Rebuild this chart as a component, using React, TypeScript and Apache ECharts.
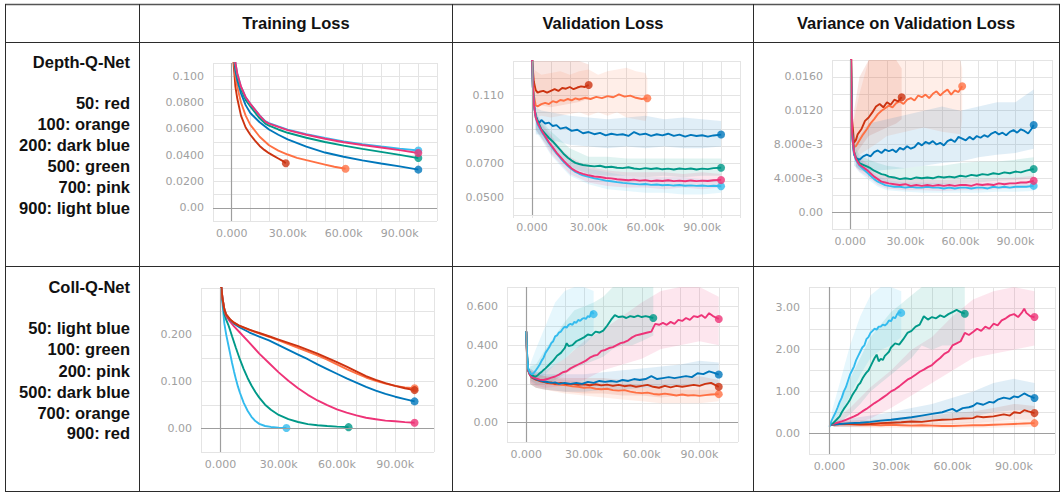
import React, { useEffect, useRef } from "react";
import * as echarts from "echarts";

// ---------- colours (TensorBoard palette) ----------
const RED = "#cc3311";
const ORANGE = "#ff7043";
const DARK_BLUE = "#0077bb";
const GREEN = "#009988";
const PINK = "#ee3377";
const LIGHT_BLUE = "#33bbee";

// ---------- table texts ----------
const columnTitles = ["Training Loss", "Validation Loss", "Variance on Validation Loss"];
const depthLegend = ["Depth-Q-Net", "50: red", "100: orange", "200: dark blue", "500: green", "700: pink", "900: light blue"];
const collLegend = ["Coll-Q-Net", "50: light blue", "100: green", "200: pink", "500: dark blue", "700: orange", "900: red"];

// ---------- tick labels ----------
const xTickLabels: [number, string][] = [[0, "0.000"], [30, "30.00k"], [60, "60.00k"], [90, "90.00k"]];
const yTicksDTrain: [number, string][] = [[0, "0.00"], [0.02, "0.0200"], [0.04, "0.0400"], [0.06, "0.0600"], [0.08, "0.0800"], [0.1, "0.100"]];
const yTicksDVal: [number, string][] = [[0.05, "0.0500"], [0.07, "0.0700"], [0.09, "0.0900"], [0.11, "0.110"]];
const yTicksDVar: [number, string][] = [[0, "0.00"], [0.004, "4.000e-3"], [0.008, "8.000e-3"], [0.012, "0.0120"], [0.016, "0.0160"]];
const yTicksCTrain: [number, string][] = [[0, "0.00"], [0.1, "0.100"], [0.2, "0.200"]];
const yTicksCVal: [number, string][] = [[0, "0.00"], [0.2, "0.200"], [0.4, "0.400"], [0.6, "0.600"]];
const yTicksCVar: [number, string][] = [[0, "0.00"], [1, "1.00"], [2, "2.00"], [3, "3.00"]];

// ---------- data: [step (k), value] ; bands: [step (k), low, high] ----------
// Depth-Q-Net, training loss
const dTrainRed = [[0, 0.16], [1, 0.11], [2, 0.092], [3, 0.083], [5, 0.07], [7.5, 0.061], [10, 0.0555], [12.5, 0.051], [15, 0.047], [17.5, 0.044], [20, 0.0415], [22.5, 0.0395], [25, 0.0375], [27.5, 0.0355], [29, 0.0338]];
const dTrainOrange = [[0, 0.16], [1, 0.115], [2, 0.1], [3, 0.092], [5, 0.08], [7.5, 0.07], [10, 0.063], [15, 0.054], [20, 0.0475], [25, 0.0435], [30, 0.0405], [35, 0.038], [40, 0.0362], [45, 0.0345], [50, 0.0328], [55, 0.0312], [61, 0.0297]];
const dTrainDarkBlue = [[0, 0.16], [1, 0.12], [2, 0.104], [3, 0.097], [5, 0.087], [7.5, 0.078], [10, 0.072], [15, 0.065], [20, 0.0595], [25, 0.0555], [30, 0.052], [40, 0.0465], [50, 0.042], [60, 0.0388], [70, 0.036], [80, 0.0337], [90, 0.0315], [100, 0.029]];
const dTrainGreen = [[0, 0.16], [1, 0.125], [2, 0.108], [3, 0.1], [5, 0.09], [7.5, 0.082], [10, 0.077], [15, 0.068], [18, 0.064], [20, 0.0625], [25, 0.0595], [30, 0.057], [40, 0.0532], [50, 0.05], [60, 0.0472], [70, 0.0448], [80, 0.0425], [90, 0.0402], [100, 0.0378]];
const dTrainPink = [[0, 0.16], [1, 0.126], [2, 0.11], [3, 0.102], [5, 0.092], [7.5, 0.084], [10, 0.079], [15, 0.07], [18, 0.0655], [20, 0.064], [25, 0.0615], [30, 0.059], [40, 0.0555], [50, 0.0525], [60, 0.0498], [70, 0.0477], [80, 0.0458], [90, 0.0438], [100, 0.0416]];
const dTrainLightBlue = [[0, 0.16], [1, 0.126], [2, 0.11], [3, 0.102], [5, 0.092], [7.5, 0.084], [10, 0.079], [15, 0.0702], [18, 0.0658], [20, 0.0643], [25, 0.0618], [30, 0.0594], [40, 0.056], [50, 0.053], [60, 0.0504], [70, 0.0484], [80, 0.0466], [90, 0.045], [100, 0.0435]];

// Depth-Q-Net, validation loss
const dValRed = [[0, 0.135], [0.5, 0.125], [1, 0.118], [2, 0.113], [3, 0.1115], [4, 0.112], [6, 0.1125], [8, 0.1115], [10, 0.1125], [12, 0.1135], [14, 0.1125], [16, 0.1142], [18, 0.1138], [20, 0.1148], [22, 0.1135], [24, 0.1145], [26, 0.1152], [28, 0.1148], [30, 0.116]];
const dValOrange = [[0, 0.135], [0.5, 0.12], [1, 0.11], [2, 0.104], [3, 0.1035], [5, 0.1048], [7, 0.1055], [9, 0.1048], [11, 0.1065], [13, 0.1058], [15, 0.1072], [17, 0.1068], [19, 0.1078], [21, 0.107], [23, 0.1082], [25, 0.1075], [28, 0.1085], [31, 0.1078], [34, 0.109], [37, 0.1083], [40, 0.1095], [43, 0.1088], [46, 0.1105], [49, 0.1092], [52, 0.1098], [55, 0.1085], [58, 0.1078], [61, 0.1082]];
const dValDarkBlue = [[0, 0.135], [0.5, 0.115], [1, 0.105], [2, 0.098], [3, 0.095], [4, 0.094], [5, 0.0955], [7, 0.0935], [9, 0.094], [11, 0.092], [13, 0.0925], [15, 0.0905], [18, 0.0912], [21, 0.0892], [24, 0.0898], [27, 0.0878], [30, 0.0885], [33, 0.0872], [36, 0.088], [39, 0.0865], [42, 0.0875], [45, 0.0868], [48, 0.0872], [51, 0.0862], [54, 0.0885], [57, 0.087], [60, 0.0875], [63, 0.0862], [66, 0.0872], [69, 0.0865], [72, 0.0875], [75, 0.0862], [78, 0.087], [81, 0.0858], [84, 0.0868], [87, 0.0862], [90, 0.0866], [93, 0.0858], [96, 0.0865], [100, 0.087]];
const dValGreen = [[0, 0.135], [0.5, 0.115], [1, 0.105], [2, 0.098], [3, 0.095], [5, 0.09], [7, 0.0875], [9, 0.085], [11, 0.083], [13, 0.0805], [15, 0.078], [17, 0.0755], [19, 0.0735], [21, 0.0718], [23, 0.0705], [25, 0.0698], [27, 0.0692], [30, 0.0688], [33, 0.0684], [36, 0.0688], [39, 0.0679], [42, 0.0682], [45, 0.0676], [48, 0.0674], [51, 0.0679], [54, 0.0672], [57, 0.0668], [60, 0.0674], [63, 0.0669], [66, 0.0673], [69, 0.0667], [72, 0.0671], [75, 0.0666], [78, 0.0672], [81, 0.0668], [84, 0.0672], [87, 0.0666], [90, 0.0671], [93, 0.0668], [96, 0.0674], [100, 0.0676]];
const dValPink = [[0, 0.135], [0.5, 0.115], [1, 0.105], [2, 0.097], [3, 0.094], [5, 0.0895], [7, 0.086], [9, 0.0825], [11, 0.0795], [13, 0.0765], [15, 0.074], [17, 0.0715], [19, 0.0692], [21, 0.0672], [23, 0.0658], [25, 0.0648], [27, 0.064], [30, 0.0632], [33, 0.0625], [36, 0.0622], [39, 0.0616], [42, 0.0614], [45, 0.0609], [48, 0.0606], [51, 0.0603], [54, 0.0607], [57, 0.0601], [60, 0.0604], [63, 0.0598], [66, 0.0602], [69, 0.0599], [72, 0.0603], [75, 0.0598], [78, 0.0601], [81, 0.0597], [84, 0.0602], [87, 0.0598], [90, 0.0601], [93, 0.0599], [96, 0.0603], [100, 0.0605]];
const dValLightBlue = [[0, 0.135], [0.5, 0.115], [1, 0.105], [2, 0.097], [3, 0.093], [5, 0.089], [7, 0.0855], [9, 0.082], [11, 0.079], [13, 0.076], [15, 0.0733], [17, 0.0708], [19, 0.0686], [21, 0.0667], [23, 0.0652], [25, 0.0641], [27, 0.0632], [30, 0.0623], [33, 0.0614], [36, 0.0608], [39, 0.0601], [42, 0.0597], [45, 0.0592], [48, 0.0588], [51, 0.0585], [54, 0.0582], [57, 0.0579], [60, 0.0581], [63, 0.0576], [66, 0.0578], [69, 0.0574], [72, 0.0576], [75, 0.0572], [78, 0.0575], [81, 0.0571], [84, 0.0573], [87, 0.057], [90, 0.0572], [93, 0.0569], [96, 0.0571], [100, 0.0568]];
const dValRedBand = [[1, 0.105, 0.13], [5, 0.104, 0.13], [10, 0.103, 0.13], [15, 0.104, 0.13], [20, 0.105, 0.13], [25, 0.106, 0.13], [30, 0.108, 0.128]];
const dValOrangeBand = [[1, 0.097, 0.125], [5, 0.098, 0.122], [10, 0.097, 0.123], [15, 0.098, 0.124], [20, 0.099, 0.122], [25, 0.1, 0.124], [30, 0.098, 0.125], [35, 0.1, 0.122], [40, 0.098, 0.124], [45, 0.1, 0.125], [50, 0.097, 0.126], [55, 0.096, 0.124], [60, 0.095, 0.123], [61, 0.098, 0.12]];
const dValDarkBlueBand = [[2, 0.087, 0.103], [5, 0.087, 0.101], [10, 0.084, 0.1], [20, 0.081, 0.098], [30, 0.08, 0.097], [40, 0.079, 0.096], [50, 0.08, 0.097], [60, 0.079, 0.098], [70, 0.08, 0.096], [80, 0.079, 0.097], [90, 0.079, 0.096], [100, 0.08, 0.095]];
const dValGreenBand = [[2, 0.09, 0.1], [5, 0.085, 0.095], [10, 0.078, 0.089], [15, 0.073, 0.084], [20, 0.068, 0.079], [30, 0.064, 0.074], [40, 0.063, 0.074], [50, 0.063, 0.073], [60, 0.062, 0.073], [70, 0.063, 0.073], [80, 0.062, 0.073], [90, 0.063, 0.073], [100, 0.063, 0.073]];
const dValPinkBand = [[2, 0.09, 0.1], [5, 0.085, 0.094], [10, 0.076, 0.087], [15, 0.07, 0.079], [20, 0.064, 0.074], [30, 0.059, 0.068], [40, 0.057, 0.066], [50, 0.056, 0.065], [60, 0.056, 0.065], [70, 0.055, 0.065], [80, 0.056, 0.064], [90, 0.055, 0.065], [100, 0.056, 0.064]];
const dValLightBlueBand = [[2, 0.089, 0.099], [5, 0.084, 0.093], [10, 0.075, 0.086], [15, 0.069, 0.078], [20, 0.063, 0.073], [30, 0.058, 0.067], [40, 0.055, 0.065], [50, 0.054, 0.063], [60, 0.053, 0.062], [70, 0.053, 0.062], [80, 0.052, 0.062], [90, 0.052, 0.061], [100, 0.053, 0.061]];

// Depth-Q-Net, variance on validation loss
const dVarRed = [[0, 0.03], [0.5, 0.018], [1, 0.011], [2, 0.0082], [3, 0.0085], [4, 0.0092], [6, 0.0098], [8, 0.0108], [10, 0.0112], [12, 0.0118], [14, 0.0125], [16, 0.0128], [18, 0.0124], [20, 0.013], [22, 0.0127], [24, 0.0133], [26, 0.0131], [28, 0.0136]];
const dVarOrange = [[0, 0.03], [0.5, 0.016], [1, 0.0095], [2, 0.0077], [3, 0.0078], [5, 0.0085], [7, 0.0092], [9, 0.0098], [11, 0.0105], [13, 0.011], [15, 0.0116], [17, 0.012], [19, 0.0123], [21, 0.0126], [23, 0.0124], [25, 0.0129], [27, 0.0131], [29, 0.0128], [31, 0.0133], [33, 0.0135], [35, 0.0132], [37, 0.0138], [39, 0.0136], [41, 0.0139], [43, 0.0135], [45, 0.014], [47, 0.0143], [49, 0.0138], [51, 0.0142], [53, 0.0145], [55, 0.0139], [57, 0.0144], [59, 0.0142], [61, 0.0149]];
const dVarDarkBlue = [[0, 0.03], [0.5, 0.015], [1, 0.009], [2, 0.0068], [3, 0.0064], [5, 0.0062], [7, 0.0066], [9, 0.0068], [11, 0.0066], [13, 0.0071], [15, 0.0073], [17, 0.007], [19, 0.0074], [21, 0.0072], [23, 0.0074], [25, 0.0071], [27, 0.0076], [29, 0.0074], [31, 0.0078], [33, 0.0075], [35, 0.0077], [37, 0.0082], [39, 0.0079], [41, 0.0083], [43, 0.0081], [45, 0.0084], [47, 0.008], [49, 0.0082], [51, 0.0079], [53, 0.0084], [55, 0.0086], [57, 0.0083], [59, 0.0089], [61, 0.0087], [63, 0.0085], [65, 0.0089], [67, 0.0086], [69, 0.009], [71, 0.0088], [73, 0.0091], [75, 0.0089], [77, 0.0093], [79, 0.0095], [81, 0.0092], [83, 0.0094], [85, 0.0091], [87, 0.0095], [89, 0.0097], [91, 0.0094], [93, 0.0098], [95, 0.0096], [97, 0.0093], [99, 0.0099], [100, 0.0103]];
const dVarGreen = [[0, 0.03], [0.5, 0.015], [1, 0.0095], [2, 0.0072], [3, 0.0065], [5, 0.0058], [7, 0.0056], [9, 0.0054], [11, 0.0052], [13, 0.0049], [15, 0.0047], [17, 0.0045], [19, 0.0044], [21, 0.0042], [24, 0.0041], [27, 0.0039], [30, 0.004], [33, 0.0039], [36, 0.0041], [39, 0.004], [42, 0.0041], [45, 0.004], [48, 0.0042], [51, 0.0041], [54, 0.0042], [57, 0.0041], [60, 0.0043], [63, 0.0042], [66, 0.0044], [69, 0.0043], [72, 0.0045], [75, 0.0044], [78, 0.0046], [81, 0.0045], [84, 0.0047], [87, 0.0046], [90, 0.0048], [93, 0.0047], [96, 0.0049], [100, 0.0051]];
const dVarPink = [[0, 0.03], [0.5, 0.015], [1, 0.0092], [2, 0.0071], [3, 0.0063], [5, 0.0056], [7, 0.0053], [9, 0.005], [11, 0.0046], [13, 0.0042], [15, 0.0039], [17, 0.0036], [19, 0.0035], [21, 0.0034], [24, 0.0033], [27, 0.0032], [30, 0.0033], [33, 0.0031], [36, 0.0032], [39, 0.0031], [42, 0.0032], [45, 0.0031], [48, 0.0032], [51, 0.0031], [54, 0.0032], [57, 0.0031], [60, 0.0032], [63, 0.0032], [66, 0.0031], [69, 0.0033], [72, 0.0032], [75, 0.0033], [78, 0.0032], [81, 0.0034], [84, 0.0033], [87, 0.0034], [90, 0.0034], [93, 0.0035], [96, 0.0035], [100, 0.0037]];
const dVarLightBlue = [[0, 0.03], [0.5, 0.015], [1, 0.009], [2, 0.007], [3, 0.0062], [5, 0.0055], [7, 0.0051], [9, 0.0047], [11, 0.0043], [13, 0.0039], [15, 0.0036], [17, 0.0034], [19, 0.0032], [21, 0.0031], [24, 0.003], [27, 0.003], [30, 0.0029], [33, 0.003], [36, 0.0029], [39, 0.0029], [42, 0.003], [45, 0.0029], [48, 0.0029], [51, 0.0028], [54, 0.0029], [57, 0.0028], [60, 0.0029], [63, 0.0029], [66, 0.0028], [69, 0.0029], [72, 0.0029], [75, 0.0028], [78, 0.003], [81, 0.0029], [84, 0.003], [87, 0.0029], [90, 0.003], [93, 0.003], [96, 0.003], [100, 0.0031]];
const dVarRedBand = [[2, 0.0065, 0.012], [5, 0.0075, 0.016], [10, 0.009, 0.018], [15, 0.0095, 0.018], [20, 0.01, 0.018], [25, 0.0105, 0.018], [28, 0.011, 0.017]];
const dVarOrangeBand = [[2, 0.0065, 0.011], [5, 0.0068, 0.014], [10, 0.0075, 0.018], [15, 0.0082, 0.018], [20, 0.009, 0.018], [30, 0.0095, 0.018], [40, 0.01, 0.018], [50, 0.0095, 0.018], [60, 0.0092, 0.018], [61, 0.011, 0.017]];
const dVarDarkBlueBand = [[2, 0.0055, 0.0085], [5, 0.005, 0.009], [10, 0.0048, 0.0105], [20, 0.005, 0.011], [30, 0.0052, 0.0115], [40, 0.0055, 0.012], [50, 0.0058, 0.0125], [60, 0.006, 0.012], [70, 0.0065, 0.0125], [80, 0.0068, 0.013], [90, 0.007, 0.013], [100, 0.0075, 0.0145]];
const dVarGreenBand = [[3, 0.0055, 0.0075], [5, 0.005, 0.0068], [10, 0.0045, 0.0062], [15, 0.0038, 0.0058], [20, 0.0035, 0.0055], [30, 0.0033, 0.0052], [40, 0.0033, 0.0055], [50, 0.0033, 0.0055], [60, 0.0034, 0.0058], [70, 0.0035, 0.006], [80, 0.0037, 0.006], [90, 0.0038, 0.0062], [100, 0.004, 0.0065]];
const dVarPinkBand = [[3, 0.0053, 0.007], [5, 0.0048, 0.0065], [10, 0.0041, 0.0056], [15, 0.0032, 0.0047], [20, 0.0028, 0.0042], [30, 0.0026, 0.004], [40, 0.0026, 0.0039], [50, 0.0025, 0.0038], [60, 0.0026, 0.0039], [70, 0.0026, 0.0039], [80, 0.0027, 0.004], [90, 0.0028, 0.0041], [100, 0.003, 0.0043]];
const dVarLightBlueBand = [[3, 0.0052, 0.0068], [5, 0.0047, 0.0063], [10, 0.0038, 0.0052], [15, 0.003, 0.0043], [20, 0.0026, 0.0038], [30, 0.0024, 0.0035], [40, 0.0023, 0.0035], [50, 0.0023, 0.0034], [60, 0.0023, 0.0034], [70, 0.0023, 0.0034], [80, 0.0024, 0.0035], [90, 0.0024, 0.0036], [100, 0.0025, 0.0036]];

// Coll-Q-Net, training loss
const cTrainLightBlue = [[0, 0.32], [1, 0.27], [2, 0.225], [3, 0.2], [4, 0.18], [5, 0.16], [6, 0.14], [7, 0.122], [8, 0.105], [9, 0.09], [10, 0.077], [12, 0.055], [14, 0.038], [16, 0.025], [18, 0.016], [20, 0.01], [23, 0.0055], [26, 0.0035], [30, 0.002], [34, 0.0012]];
const cTrainGreen = [[0, 0.32], [1, 0.275], [2, 0.245], [3, 0.232], [4, 0.222], [5, 0.21], [6, 0.197], [8, 0.172], [10, 0.148], [12, 0.127], [14, 0.108], [16, 0.092], [18, 0.078], [20, 0.066], [23, 0.051], [26, 0.04], [30, 0.029], [35, 0.02], [40, 0.014], [45, 0.0095], [50, 0.007], [55, 0.0055], [60, 0.0042], [66, 0.003]];
const cTrainPink = [[0, 0.32], [1, 0.28], [2, 0.252], [3, 0.24], [5, 0.228], [7, 0.218], [10, 0.205], [15, 0.183], [20, 0.16], [25, 0.14], [30, 0.12], [35, 0.102], [40, 0.086], [45, 0.072], [50, 0.06], [55, 0.05], [60, 0.041], [65, 0.034], [70, 0.028], [75, 0.023], [80, 0.02], [85, 0.017], [90, 0.0155], [95, 0.0138], [100, 0.0125]];
const cTrainDarkBlue = [[0, 0.32], [1, 0.28], [2, 0.255], [3, 0.243], [5, 0.232], [7, 0.224], [10, 0.216], [15, 0.205], [20, 0.196], [25, 0.188], [30, 0.178], [35, 0.168], [40, 0.158], [45, 0.148], [50, 0.137], [55, 0.127], [60, 0.117], [65, 0.107], [70, 0.098], [75, 0.089], [80, 0.081], [85, 0.074], [90, 0.068], [95, 0.063], [100, 0.058]];
const cTrainOrange = [[0, 0.32], [1, 0.28], [2, 0.255], [3, 0.243], [5, 0.233], [7, 0.226], [10, 0.219], [15, 0.21], [20, 0.203], [25, 0.196], [30, 0.188], [35, 0.18], [40, 0.172], [45, 0.164], [50, 0.156], [55, 0.147], [60, 0.137], [65, 0.127], [70, 0.118], [75, 0.109], [80, 0.102], [85, 0.096], [90, 0.091], [95, 0.088], [100, 0.086]];
const cTrainRed = [[0, 0.32], [1, 0.28], [2, 0.255], [3, 0.243], [5, 0.233], [7, 0.226], [10, 0.219], [15, 0.211], [20, 0.204], [25, 0.197], [30, 0.19], [35, 0.183], [40, 0.176], [45, 0.168], [50, 0.16], [55, 0.151], [60, 0.142], [65, 0.132], [70, 0.122], [75, 0.112], [80, 0.104], [85, 0.097], [90, 0.091], [95, 0.086], [100, 0.082]];

// Coll-Q-Net, validation loss
const cValLightBlue = [[0, 0.47], [0.5, 0.34], [1, 0.28], [2, 0.255], [3, 0.25], [4, 0.258], [5, 0.27], [6, 0.285], [7, 0.3], [8, 0.32], [9, 0.335], [10, 0.36], [11, 0.375], [12, 0.39], [13, 0.41], [14, 0.42], [15, 0.445], [16, 0.45], [17, 0.465], [18, 0.47], [19, 0.485], [20, 0.495], [21, 0.49], [22, 0.505], [23, 0.51], [24, 0.505], [25, 0.52], [26, 0.515], [27, 0.53], [28, 0.525], [29, 0.535], [30, 0.54], [31, 0.535], [32, 0.55], [33, 0.545], [34, 0.575], [35, 0.56]];
const cValGreen = [[0, 0.47], [0.5, 0.34], [1, 0.28], [2, 0.255], [3, 0.245], [4, 0.24], [5, 0.238], [6, 0.245], [7, 0.255], [8, 0.262], [9, 0.272], [10, 0.28], [12, 0.3], [14, 0.32], [16, 0.345], [18, 0.36], [20, 0.385], [21, 0.41], [22, 0.395], [24, 0.4], [26, 0.42], [28, 0.43], [30, 0.44], [32, 0.455], [34, 0.45], [36, 0.47], [38, 0.465], [40, 0.475], [42, 0.5], [44, 0.53], [46, 0.555], [48, 0.545], [50, 0.548], [52, 0.54], [54, 0.55], [56, 0.545], [58, 0.552], [60, 0.545], [62, 0.55], [64, 0.545], [66, 0.54]];
const cValPink = [[0, 0.47], [0.5, 0.33], [1, 0.27], [2, 0.245], [3, 0.235], [5, 0.228], [7, 0.222], [9, 0.22], [11, 0.225], [13, 0.232], [15, 0.238], [17, 0.248], [19, 0.26], [21, 0.265], [23, 0.28], [25, 0.29], [27, 0.3], [29, 0.31], [31, 0.32], [33, 0.335], [35, 0.345], [37, 0.35], [39, 0.37], [41, 0.375], [43, 0.385], [45, 0.39], [47, 0.4], [49, 0.41], [51, 0.415], [53, 0.425], [55, 0.44], [57, 0.45], [59, 0.455], [61, 0.46], [63, 0.465], [65, 0.47], [66, 0.49], [67, 0.51], [69, 0.505], [71, 0.515], [73, 0.505], [75, 0.52], [77, 0.51], [79, 0.53], [81, 0.525], [83, 0.54], [85, 0.53], [87, 0.55], [89, 0.545], [91, 0.555], [93, 0.54], [95, 0.565], [97, 0.55], [99, 0.54], [100, 0.535]];
const cValDarkBlue = [[0, 0.47], [0.5, 0.32], [1, 0.27], [2, 0.245], [3, 0.235], [5, 0.225], [7, 0.218], [9, 0.212], [11, 0.21], [13, 0.205], [15, 0.208], [17, 0.2], [20, 0.205], [23, 0.2], [26, 0.205], [29, 0.2], [32, 0.21], [35, 0.205], [38, 0.215], [41, 0.21], [44, 0.215], [47, 0.21], [50, 0.22], [53, 0.215], [56, 0.225], [59, 0.22], [62, 0.225], [65, 0.24], [68, 0.225], [71, 0.23], [74, 0.235], [77, 0.23], [80, 0.235], [83, 0.24], [86, 0.235], [89, 0.255], [92, 0.25], [95, 0.265], [98, 0.255], [100, 0.248]];
const cValRed = [[0, 0.47], [0.5, 0.32], [1, 0.27], [2, 0.245], [3, 0.232], [5, 0.222], [7, 0.215], [9, 0.21], [11, 0.205], [13, 0.208], [15, 0.2], [18, 0.205], [21, 0.198], [24, 0.2], [27, 0.195], [30, 0.198], [33, 0.193], [36, 0.198], [39, 0.192], [42, 0.196], [45, 0.19], [48, 0.195], [51, 0.188], [54, 0.192], [57, 0.185], [60, 0.19], [63, 0.195], [66, 0.185], [69, 0.18], [72, 0.19], [75, 0.182], [78, 0.19], [81, 0.185], [84, 0.19], [87, 0.195], [90, 0.19], [93, 0.2], [96, 0.205], [98, 0.195], [100, 0.185]];
const cValOrange = [[0, 0.47], [0.5, 0.32], [1, 0.27], [2, 0.245], [3, 0.232], [5, 0.222], [7, 0.215], [9, 0.21], [11, 0.205], [13, 0.2], [15, 0.198], [18, 0.195], [21, 0.192], [24, 0.188], [27, 0.185], [30, 0.18], [33, 0.182], [36, 0.175], [39, 0.172], [42, 0.175], [45, 0.168], [48, 0.165], [51, 0.168], [54, 0.16], [57, 0.155], [60, 0.152], [63, 0.155], [66, 0.148], [69, 0.145], [72, 0.15], [75, 0.145], [78, 0.14], [81, 0.145], [84, 0.14], [87, 0.142], [90, 0.138], [93, 0.142], [96, 0.145], [100, 0.147]];
const cValLightBlueBand = [[2, 0.23, 0.3], [5, 0.22, 0.38], [10, 0.25, 0.5], [15, 0.3, 0.62], [20, 0.33, 0.68], [25, 0.38, 0.7], [30, 0.4, 0.7], [35, 0.45, 0.68]];
const cValGreenBand = [[2, 0.22, 0.29], [5, 0.2, 0.3], [10, 0.2, 0.38], [15, 0.22, 0.45], [20, 0.25, 0.52], [25, 0.28, 0.58], [30, 0.3, 0.6], [35, 0.32, 0.62], [40, 0.34, 0.65], [45, 0.38, 0.7], [50, 0.4, 0.7], [55, 0.4, 0.7], [60, 0.42, 0.7], [66, 0.45, 0.7]];
const cValPinkBand = [[2, 0.21, 0.28], [5, 0.19, 0.26], [10, 0.18, 0.27], [20, 0.19, 0.33], [30, 0.22, 0.42], [40, 0.27, 0.48], [50, 0.3, 0.55], [60, 0.33, 0.62], [70, 0.38, 0.68], [80, 0.4, 0.7], [90, 0.42, 0.7], [100, 0.4, 0.65]];
const cValDarkBlueBand = [[2, 0.2, 0.28], [5, 0.18, 0.26], [10, 0.17, 0.25], [20, 0.16, 0.25], [30, 0.16, 0.25], [40, 0.17, 0.26], [50, 0.17, 0.27], [60, 0.18, 0.28], [70, 0.18, 0.29], [80, 0.19, 0.3], [90, 0.2, 0.32], [100, 0.2, 0.31]];
const cValRedBand = [[2, 0.2, 0.27], [5, 0.18, 0.25], [10, 0.17, 0.24], [20, 0.16, 0.23], [30, 0.15, 0.23], [40, 0.15, 0.23], [50, 0.14, 0.22], [60, 0.14, 0.23], [70, 0.13, 0.22], [80, 0.14, 0.23], [90, 0.14, 0.24], [100, 0.14, 0.22]];
const cValOrangeBand = [[2, 0.2, 0.27], [5, 0.18, 0.25], [10, 0.17, 0.24], [20, 0.15, 0.22], [30, 0.14, 0.21], [40, 0.13, 0.2], [50, 0.12, 0.2], [60, 0.11, 0.18], [70, 0.1, 0.18], [80, 0.1, 0.17], [90, 0.1, 0.17], [100, 0.11, 0.17]];

// Coll-Q-Net, variance on validation loss
const cVarLightBlue = [[0, 0.15], [1, 0.3], [2, 0.4], [3, 0.5], [4, 0.62], [5, 0.75], [6, 0.85], [7, 1.0], [8, 1.1], [9, 1.25], [10, 1.4], [11, 1.5], [12, 1.6], [13, 1.75], [14, 1.85], [15, 1.95], [16, 2.05], [17, 2.1], [18, 2.25], [19, 2.3], [20, 2.4], [21, 2.45], [22, 2.5], [23, 2.48], [24, 2.55], [25, 2.55], [26, 2.6], [27, 2.58], [28, 2.62], [29, 2.7], [30, 2.68], [31, 2.78], [32, 2.75], [33, 2.85], [34, 2.9], [35, 2.88]];
const cVarGreen = [[0, 0.2], [1, 0.22], [2, 0.25], [3, 0.3], [4, 0.35], [5, 0.4], [6, 0.5], [7, 0.58], [8, 0.65], [9, 0.72], [10, 0.8], [11, 0.9], [12, 0.98], [13, 1.05], [14, 1.15], [15, 1.2], [16, 1.3], [17, 1.38], [18, 1.45], [19, 1.5], [20, 1.6], [21, 1.7], [22, 1.8], [23, 1.88], [24, 1.72], [25, 1.78], [26, 1.75], [27, 1.85], [28, 1.9], [29, 1.95], [30, 2.05], [32, 2.15], [34, 2.12], [36, 2.25], [38, 2.4], [40, 2.45], [42, 2.55], [44, 2.6], [46, 2.8], [48, 2.72], [50, 2.78], [52, 2.75], [54, 2.82], [56, 2.78], [58, 2.85], [60, 2.9], [62, 2.95], [64, 2.9], [66, 2.86]];
const cVarPink = [[0, 0.2], [2, 0.22], [4, 0.25], [6, 0.28], [8, 0.32], [10, 0.36], [12, 0.4], [14, 0.45], [16, 0.52], [18, 0.58], [20, 0.65], [22, 0.72], [24, 0.78], [26, 0.85], [28, 0.92], [30, 1.0], [32, 1.05], [34, 1.12], [36, 1.2], [38, 1.28], [40, 1.33], [42, 1.4], [44, 1.47], [46, 1.52], [48, 1.58], [50, 1.63], [52, 1.72], [54, 1.8], [56, 1.9], [58, 1.95], [60, 2.1], [62, 2.15], [64, 2.2], [66, 2.4], [68, 2.35], [70, 2.42], [72, 2.5], [74, 2.45], [76, 2.55], [78, 2.5], [80, 2.62], [82, 2.58], [84, 2.7], [86, 2.75], [88, 2.82], [90, 2.85], [92, 2.78], [94, 2.9], [95, 2.98], [96, 2.88], [98, 2.8], [100, 2.78]];
const cVarDarkBlue = [[0, 0.2], [5, 0.22], [10, 0.24], [15, 0.25], [20, 0.27], [25, 0.3], [30, 0.32], [35, 0.35], [40, 0.38], [45, 0.42], [50, 0.46], [55, 0.5], [58, 0.55], [60, 0.58], [62, 0.52], [65, 0.6], [68, 0.62], [70, 0.65], [72, 0.72], [75, 0.68], [78, 0.75], [80, 0.73], [82, 0.8], [85, 0.85], [88, 0.82], [90, 0.88], [92, 0.86], [95, 0.95], [97, 0.9], [100, 0.84]];
const cVarRed = [[0, 0.2], [5, 0.22], [10, 0.22], [15, 0.21], [20, 0.22], [25, 0.24], [30, 0.25], [35, 0.26], [40, 0.28], [45, 0.27], [50, 0.3], [55, 0.32], [60, 0.33], [65, 0.35], [70, 0.36], [72, 0.4], [75, 0.38], [80, 0.4], [85, 0.45], [88, 0.42], [90, 0.5], [93, 0.48], [95, 0.55], [97, 0.52], [100, 0.48]];
const cVarOrange = [[0, 0.2], [5, 0.22], [10, 0.21], [15, 0.2], [20, 0.2], [25, 0.19], [30, 0.2], [35, 0.19], [40, 0.18], [45, 0.19], [50, 0.18], [55, 0.17], [60, 0.17], [65, 0.18], [70, 0.19], [75, 0.19], [80, 0.2], [85, 0.21], [90, 0.22], [95, 0.23], [100, 0.24]];
const cVarLightBlueBand = [[1, 0.15, 0.5], [5, 0.4, 1.2], [10, 0.9, 2.1], [15, 1.4, 2.8], [20, 1.8, 3.3], [25, 2.0, 3.5], [30, 2.1, 3.5], [35, 2.3, 3.4]];
const cVarGreenBand = [[2, 0.15, 0.4], [5, 0.25, 0.7], [10, 0.45, 1.3], [15, 0.7, 1.8], [20, 1.0, 2.3], [25, 1.2, 2.6], [30, 1.4, 2.9], [35, 1.6, 3.1], [40, 1.8, 3.3], [45, 2.1, 3.5], [50, 2.0, 3.5], [55, 2.1, 3.5], [60, 2.1, 3.5], [66, 2.3, 3.5]];
const cVarPinkBand = [[2, 0.15, 0.3], [10, 0.2, 0.6], [20, 0.35, 1.1], [30, 0.6, 1.5], [40, 0.9, 2.0], [50, 1.2, 2.3], [60, 1.5, 2.8], [70, 1.8, 3.2], [80, 1.9, 3.4], [90, 2.0, 3.5], [100, 2.1, 3.4]];
const cVarDarkBlueBand = [[2, 0.15, 0.3], [10, 0.15, 0.35], [20, 0.17, 0.42], [30, 0.2, 0.5], [40, 0.25, 0.6], [50, 0.3, 0.7], [60, 0.35, 0.85], [70, 0.4, 1.0], [80, 0.5, 1.2], [90, 0.55, 1.3], [100, 0.55, 1.2]];
const cVarRedBand = [[2, 0.15, 0.28], [10, 0.15, 0.3], [20, 0.15, 0.32], [30, 0.17, 0.35], [40, 0.18, 0.4], [50, 0.2, 0.42], [60, 0.22, 0.48], [70, 0.25, 0.52], [80, 0.28, 0.6], [90, 0.32, 0.7], [100, 0.32, 0.65]];
const cVarOrangeBand = [[2, 0.15, 0.27], [10, 0.14, 0.27], [20, 0.13, 0.26], [30, 0.13, 0.26], [40, 0.12, 0.25], [50, 0.12, 0.25], [60, 0.11, 0.24], [70, 0.12, 0.26], [80, 0.13, 0.28], [90, 0.14, 0.3], [100, 0.15, 0.32]];

// ---------- panel layout ----------
type Run = { color: string; line: number[][]; band?: number[][] };
type Panel = {
  left: number; top: number; width: number; height: number;
  yMin: number; yMax: number; yInt: number; yTicks: [number, string][];
  runs: Run[];
};

const panels: Panel[] = [
  {
    left: 213, top: 63, width: 224, height: 158, yMin: -0.01, yMax: 0.11, yInt: 0.01, yTicks: yTicksDTrain,
    runs: [
      { color: RED, line: dTrainRed }, { color: ORANGE, line: dTrainOrange }, { color: DARK_BLUE, line: dTrainDarkBlue },
      { color: GREEN, line: dTrainGreen }, { color: LIGHT_BLUE, line: dTrainLightBlue }, { color: PINK, line: dTrainPink },
    ],
  },
  {
    left: 513, top: 61, width: 227, height: 154, yMin: 0.04, yMax: 0.13, yInt: 0.01, yTicks: yTicksDVal,
    runs: [
      { color: RED, line: dValRed, band: dValRedBand }, { color: ORANGE, line: dValOrange, band: dValOrangeBand },
      { color: DARK_BLUE, line: dValDarkBlue, band: dValDarkBlueBand }, { color: GREEN, line: dValGreen, band: dValGreenBand },
      { color: LIGHT_BLUE, line: dValLightBlue, band: dValLightBlueBand }, { color: PINK, line: dValPink, band: dValPinkBand },
    ],
  },
  {
    left: 832, top: 60, width: 220, height: 169, yMin: -0.002, yMax: 0.018, yInt: 0.002, yTicks: yTicksDVar,
    runs: [
      { color: ORANGE, line: dVarOrange, band: dVarOrangeBand }, { color: RED, line: dVarRed, band: dVarRedBand },
      { color: DARK_BLUE, line: dVarDarkBlue, band: dVarDarkBlueBand }, { color: GREEN, line: dVarGreen, band: dVarGreenBand },
      { color: LIGHT_BLUE, line: dVarLightBlue, band: dVarLightBlueBand }, { color: PINK, line: dVarPink, band: dVarPinkBand },
    ],
  },
  {
    left: 201, top: 288, width: 233, height: 164, yMin: -0.05, yMax: 0.3, yInt: 0.05, yTicks: yTicksCTrain,
    runs: [
      { color: LIGHT_BLUE, line: cTrainLightBlue }, { color: GREEN, line: cTrainGreen }, { color: PINK, line: cTrainPink },
      { color: DARK_BLUE, line: cTrainDarkBlue }, { color: ORANGE, line: cTrainOrange }, { color: RED, line: cTrainRed },
    ],
  },
  {
    left: 507, top: 287, width: 231, height: 155, yMin: -0.1, yMax: 0.7, yInt: 0.1, yTicks: yTicksCVal,
    runs: [
      { color: ORANGE, line: cValOrange, band: cValOrangeBand }, { color: RED, line: cValRed, band: cValRedBand },
      { color: DARK_BLUE, line: cValDarkBlue, band: cValDarkBlueBand }, { color: PINK, line: cValPink, band: cValPinkBand },
      { color: GREEN, line: cValGreen, band: cValGreenBand }, { color: LIGHT_BLUE, line: cValLightBlue, band: cValLightBlueBand },
    ],
  },
  {
    left: 809, top: 287, width: 246, height: 167, yMin: -0.5, yMax: 3.5, yInt: 0.5, yTicks: yTicksCVar,
    runs: [
      { color: ORANGE, line: cVarOrange, band: cVarOrangeBand }, { color: RED, line: cVarRed, band: cVarRedBand },
      { color: DARK_BLUE, line: cVarDarkBlue, band: cVarDarkBlueBand }, { color: PINK, line: cVarPink, band: cVarPinkBand },
      { color: GREEN, line: cVarGreen, band: cVarGreenBand }, { color: LIGHT_BLUE, line: cVarLightBlue, band: cVarLightBlueBand },
    ],
  },
];

const GRID_COLOR = "#e4e4e4";
const ZERO_COLOR = "#9e9e9e";
const LABEL_COLOR = "#a0a0a0";
const LABEL_FONT = "DejaVu Sans";
const TABLE_FONT = 'bold 16.5px "Liberation Sans", Arial, sans-serif';
const BAND_OPACITY = 0.12;

function tickFormatter(ticks: [number, string][], tol: number) {
  return (v: number) => {
    const t = ticks.find((p) => Math.abs(p[0] - v) < tol);
    return t ? t[1] : "";
  };
}

function buildOption() {
  const grid: any[] = [];
  const xAxis: any[] = [];
  const yAxis: any[] = [];
  const series: any[] = [];

  panels.forEach((p, i) => {
    grid.push({ left: p.left, top: p.top, width: p.width, height: p.height, containLabel: false });
    xAxis.push({
      type: "value", gridIndex: i, min: -10, max: 110, interval: 10,
      axisLine: { show: false },
      axisTick: { show: true, length: 3, lineStyle: { color: GRID_COLOR } },
      splitLine: { show: true, lineStyle: { color: GRID_COLOR, width: 1 } },
      axisLabel: { show: true, formatter: tickFormatter(xTickLabels, 0.5), color: LABEL_COLOR, fontSize: 11, fontFamily: LABEL_FONT, margin: 7 },
    });
    yAxis.push({
      type: "value", gridIndex: i, min: p.yMin, max: p.yMax, interval: p.yInt,
      axisLine: { show: false },
      axisTick: { show: true, length: 3, lineStyle: { color: GRID_COLOR } },
      splitLine: { show: true, lineStyle: { color: GRID_COLOR, width: 1 } },
      axisLabel: { show: true, formatter: tickFormatter(p.yTicks, p.yInt * 0.05), color: LABEL_COLOR, fontSize: 11, fontFamily: LABEL_FONT, margin: 9 },
    });

    const zeroData: any[] = [{ xAxis: 0 }];
    if (p.yMin < 0) zeroData.push({ yAxis: 0 });
    series.push({
      type: "line", xAxisIndex: i, yAxisIndex: i, data: [[0, p.yMin]], symbol: "none", silent: true, z: 2,
      lineStyle: { opacity: 0 },
      markLine: {
        silent: true, symbol: ["none", "none"], label: { show: false },
        lineStyle: { color: ZERO_COLOR, type: "solid", width: 1.2 }, data: zeroData,
      },
    });

    p.runs.forEach((r) => {
      if (r.band) {
        const band = r.band;
        series.push({
          type: "custom", xAxisIndex: i, yAxisIndex: i, z: 1, silent: true, clip: true,
          data: [[band[0][0], band[0][1]]],
          renderItem: (_params: any, api: any) => {
            const pts: number[][] = [];
            for (let j = 0; j < band.length; j++) pts.push(api.coord([band[j][0], band[j][1]]));
            for (let j = band.length - 1; j >= 0; j--) pts.push(api.coord([band[j][0], band[j][2]]));
            return { type: "polygon", shape: { points: pts }, style: { fill: r.color, opacity: BAND_OPACITY } };
          },
        });
      }
    });
    p.runs.forEach((r) => {
      series.push({
        type: "line", xAxisIndex: i, yAxisIndex: i, data: r.line, symbol: "none", showSymbol: false,
        silent: true, z: 3, clip: true,
        lineStyle: { color: r.color, width: 1.9 }, itemStyle: { color: r.color },
      });
    });
    p.runs.forEach((r) => {
      const last = r.line[r.line.length - 1];
      series.push({
        type: "scatter", xAxisIndex: i, yAxisIndex: i, data: [last], symbol: "circle", symbolSize: 8,
        silent: true, z: 4, itemStyle: { color: r.color },
      });
    });
  });

  // table
  const lineStyle = { stroke: "#2b2b2b", lineWidth: 1 };
  const graphic: any[] = [
    { type: "line", shape: { x1: 5, y1: 4.5, x2: 1060, y2: 4.5 }, style: { stroke: "#555", lineWidth: 1.5 } },
    { type: "line", shape: { x1: 5, y1: 42.5, x2: 1060, y2: 42.5 }, style: lineStyle },
    { type: "line", shape: { x1: 5, y1: 266.5, x2: 1060, y2: 266.5 }, style: lineStyle },
    { type: "line", shape: { x1: 5, y1: 491.5, x2: 1060, y2: 491.5 }, style: lineStyle },
    { type: "line", shape: { x1: 5.5, y1: 4, x2: 5.5, y2: 492 }, style: lineStyle },
    { type: "line", shape: { x1: 139.5, y1: 4, x2: 139.5, y2: 492 }, style: lineStyle },
    { type: "line", shape: { x1: 452.5, y1: 4, x2: 452.5, y2: 492 }, style: lineStyle },
    { type: "line", shape: { x1: 753.5, y1: 4, x2: 753.5, y2: 492 }, style: lineStyle },
    { type: "line", shape: { x1: 1059.5, y1: 4, x2: 1059.5, y2: 492 }, style: lineStyle },
  ];
  const colCenters = [296, 603, 906];
  columnTitles.forEach((t, k) => {
    graphic.push({
      type: "text", x: colCenters[k], y: 23,
      style: { text: t, font: TABLE_FONT, fill: "#111", textAlign: "center", textVerticalAlign: "middle", align: "center", verticalAlign: "middle" },
    });
  });
  const depthY = [62, 103, 124, 145, 166, 187, 208];
  const collY = [287, 328, 349, 371, 392, 413, 433];
  depthLegend.forEach((t, k) => {
    graphic.push({
      type: "text", x: 130, y: depthY[k],
      style: { text: t, font: TABLE_FONT, fill: "#111", textAlign: "right", textVerticalAlign: "middle", align: "right", verticalAlign: "middle" },
    });
  });
  collLegend.forEach((t, k) => {
    graphic.push({
      type: "text", x: 130, y: collY[k],
      style: { text: t, font: TABLE_FONT, fill: "#111", textAlign: "right", textVerticalAlign: "middle", align: "right", verticalAlign: "middle" },
    });
  });

  return { animation: false, backgroundColor: "#ffffff", grid, xAxis, yAxis, series, graphic };
}

export default function App() {
  const ref = useRef<HTMLDivElement>(null);
  useEffect(() => {
    if (!ref.current) return;
    const chart = echarts.init(ref.current, undefined, { renderer: "svg" });
    chart.setOption(buildOption() as any);
    return () => chart.dispose();
  }, []);
  return (
    <div
      ref={ref}
      style={{ position: "absolute", left: 0, top: 0, width: 1060, height: 493, background: "#fff" }}
    />
  );
}
